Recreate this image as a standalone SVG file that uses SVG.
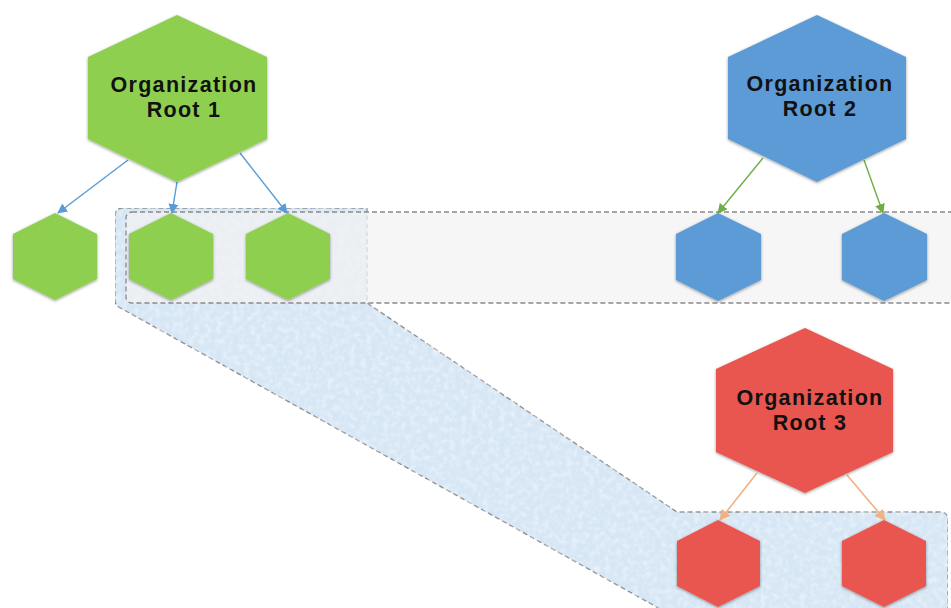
<svg xmlns="http://www.w3.org/2000/svg" width="951" height="608" viewBox="0 0 951 608">
  <defs>
    <style>
      .zone { stroke: #8a8a8a; stroke-width: 1.3; stroke-dasharray: 5 3; }
      .green { fill: #8fcf4f; filter: url(#sh); }
      .blue { fill: #5b9bd5; filter: url(#sh); }
      .red { fill: #e8574f; filter: url(#sh); }
      .lbl { font-family: "Liberation Sans", Arial, sans-serif; font-weight: 700; font-size: 21.5px; letter-spacing: 1.3px; fill: #111; text-anchor: middle; }
      .c-blue { stroke: #5b9bd5; stroke-width: 1.4; fill: none; marker-end: url(#ab); }
      .c-green { stroke: #70ad47; stroke-width: 1.4; fill: none; marker-end: url(#ag); }
      .c-orange { stroke: #f2b183; stroke-width: 1.6; fill: none; marker-end: url(#ao); }
    </style>
    <filter id="sh" x="-20%" y="-20%" width="140%" height="140%">
      <feDropShadow dx="0" dy="1" stdDeviation="1.6" flood-color="#000" flood-opacity="0.4"/>
    </filter>
    <filter id="tex" x="0" y="0" width="100%" height="100%">
      <feTurbulence type="fractalNoise" baseFrequency="0.18" numOctaves="2" seed="4" result="n"/>
      <feColorMatrix in="n" type="matrix" values="0 0 0 0 1  0 0 0 0 1  0 0 0 0 1  0 0 0 0.9 -0.35" result="w"/>
      <feComposite in="w" in2="SourceGraphic" operator="in" result="wc"/>
      <feMerge><feMergeNode in="SourceGraphic"/><feMergeNode in="wc"/></feMerge>
    </filter>
    <marker id="ab" viewBox="0 0 10 10" refX="9" refY="5" markerWidth="10" markerHeight="10" markerUnits="userSpaceOnUse" orient="auto">
      <path d="M0,0 L10,5 L0,10 Z" fill="#5b9bd5"/>
    </marker>
    <marker id="ag" viewBox="0 0 10 10" refX="9" refY="5" markerWidth="10" markerHeight="10" markerUnits="userSpaceOnUse" orient="auto">
      <path d="M0,0 L10,5 L0,10 Z" fill="#70ad47"/>
    </marker>
    <marker id="ao" viewBox="0 0 10 10" refX="9" refY="5" markerWidth="11" markerHeight="11" markerUnits="userSpaceOnUse" orient="auto">
      <path d="M0,0 L10,5 L0,10 Z" fill="#f2b183"/>
    </marker>
  </defs>

  <rect width="951" height="608" fill="#ffffff"/>

  <g id="zones">
    <path id="shared-zone" class="zone" fill="#d6e6f5" filter="url(#tex)" d="M115,216 Q115,208 123,208 L367,208 L367,303 L677,512 L940,512 Q948,512 948,520 L948,620 L680,620 L117,306 Q115,304 115,298 Z"/>
    <rect id="band" class="zone" x="126" y="212" width="840" height="91" rx="6" fill="#f2f2f2" fill-opacity="0.72"/>
  </g>

  <g id="connectors">
    <line class="c-blue" x1="128" y1="160" x2="58" y2="213"/>
    <line class="c-blue" x1="177" y1="182" x2="172" y2="213"/>
    <line class="c-blue" x1="240" y1="153" x2="287" y2="213"/>
    <line class="c-green" x1="763" y1="158" x2="718" y2="213"/>
    <line class="c-green" x1="864" y1="160" x2="883" y2="213"/>
    <line class="c-orange" x1="757" y1="473" x2="720" y2="520"/>
    <line class="c-orange" x1="847" y1="475" x2="885" y2="520"/>
  </g>

  <g id="root1">
    <polygon class="green" points="177,15 267,57 267,139 177,182 88,139 88,57"/>
    <text class="lbl" x="184" y="92">Organization</text>
    <text class="lbl" x="184" y="117">Root 1</text>
  </g>
  <g id="g1"><polygon class="green" points="55,213 97,234 97,279 55,300 13,279 13,234"/></g>
  <g id="g2"><polygon class="green" points="171,213 213,234 213,279 171,300 129,279 129,234"/></g>
  <g id="g3"><polygon class="green" points="288,213 330,234 330,279 288,300 246,279 246,234"/></g>

  <g id="root2">
    <polygon class="blue" points="817,15 906,57 906,139 817,182 728,139 728,57"/>
    <text class="lbl" x="820" y="91">Organization</text>
    <text class="lbl" x="820" y="116">Root 2</text>
  </g>
  <g id="b1"><polygon class="blue" points="718,213 761,234 761,280 718,301 676,280 676,234"/></g>
  <g id="b2"><polygon class="blue" points="884,213 927,234 927,280 884,301 842,280 842,234"/></g>

  <g id="root3">
    <polygon class="red" points="805,328 893,369 893,452 805,493 716,452 716,369"/>
    <text class="lbl" x="810" y="405">Organization</text>
    <text class="lbl" x="810" y="430">Root 3</text>
  </g>
  <g id="r1"><polygon class="red" points="718,520 760,541 760,586 718,607 677,586 677,541"/></g>
  <g id="r2"><polygon class="red" points="884,520 926,541 926,586 884,607 842,586 842,541"/></g>
</svg>
